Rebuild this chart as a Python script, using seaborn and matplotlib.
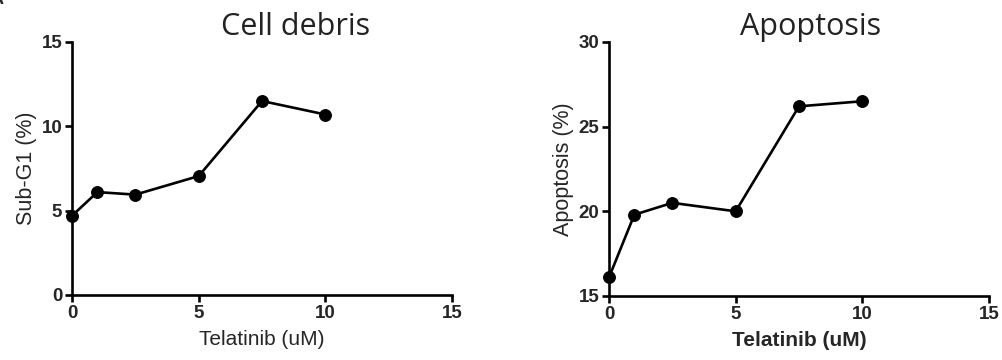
import pandas as pd
import matplotlib.pyplot as plt
import seaborn as sns

sns.set_style("ticks")
plt.rcParams['font.family'] = ['Liberation Sans', 'DejaVu Sans']

dose = [0, 1, 2.5, 5, 7.5, 10]
subg1 = [4.7, 6.1, 5.95, 7.05, 11.5, 10.7]
apoptosis = [16.1, 19.8, 20.5, 20.0, 26.2, 26.5]

debris_df = pd.DataFrame({"dose": dose, "value": subg1})
apo_df = pd.DataFrame({"dose": dose, "value": apoptosis})

fig = plt.figure(figsize=(10.02, 3.6), dpi=100)
ax1 = fig.add_axes([0.0719, 0.1806, 0.3792, 0.7028])
ax2 = fig.add_axes([0.6078, 0.1778, 0.3792, 0.7056])

panels = [
    (ax1, debris_df, "Cell debris", 0.587, "Sub-G1 (%)", "normal", (0, 15), [0, 5, 10, 15]),
    (ax2, apo_df, "Apoptosis", 0.53, "Apoptosis (%)", "bold", (15, 30), [15, 20, 25, 30]),
]

for ax, df, title, tx, ylab, xweight, ylim, yticks in panels:
    sns.lineplot(data=df, x="dose", y="value", ax=ax, color="black", linewidth=1.9,
                 marker="o", markersize=8.5, markeredgecolor="black", clip_on=False)
    ax.set_xlim(0, 15)
    ax.set_ylim(*ylim)
    ax.set_xticks([0, 5, 10, 15])
    ax.set_yticks(yticks)
    for s in ["top", "right"]:
        ax.spines[s].set_visible(False)
    for s in ["left", "bottom"]:
        ax.spines[s].set_linewidth(1.9)
        ax.spines[s].set_color("black")
    ax.tick_params(direction="out", length=5, width=1.9, labelsize=13.5, pad=2, color="black")
    for t in ax.get_xticklabels() + ax.get_yticklabels():
        t.set_fontweight("bold")
    ax.set_xlabel("Telatinib (uM)", fontsize=15, fontweight=xweight, labelpad=6)
    ax.set_ylabel(ylab, fontsize=15.5, labelpad=3)
    ax.text(tx, 1.06, title, transform=ax.transAxes, ha="center", va="center",
            fontsize=22, family=["Open Sans", "DejaVu Sans"], color="#222222")

fig.text(-0.009, 1.025, "A", fontsize=13, fontweight="bold", ha="left", va="top")

plt.savefig("out.png", dpi=100)
plt.close()
